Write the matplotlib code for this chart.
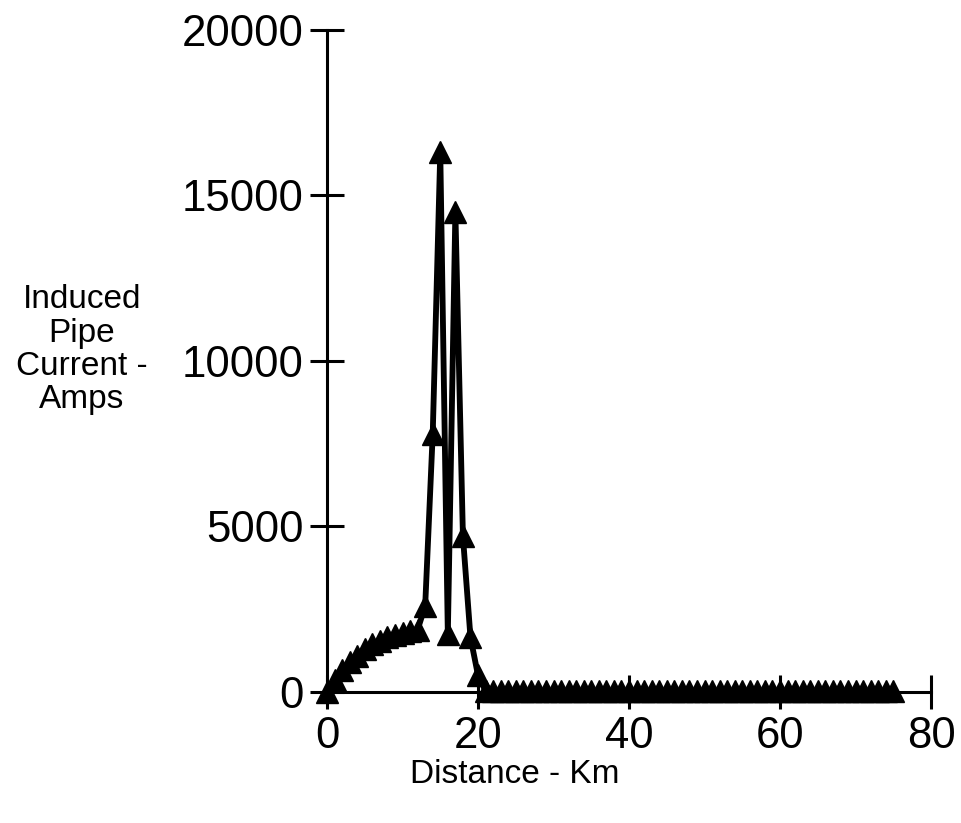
import matplotlib.pyplot as plt
import numpy as np

plt.rcParams['font.family'] = ['Liberation Sans', 'DejaVu Sans']

# distance along pipe (km) and induced current (A)
dist = list(range(0, 76))
rise = [0, 350, 650, 900, 1100, 1300, 1450, 1550, 1650, 1720, 1780, 1830, 1880]
peak = [2600, 7800, 16300, 1750, 14500, 4700, 1650, 500]
tail = [30] * (len(dist) - len(rise) - len(peak))
current = rise + peak + tail

xticks = [0, 20, 40, 60, 80]
yticks = [0, 5000, 10000, 15000, 20000]

fig = plt.figure(figsize=(9.61, 8.23), dpi=100)
ax = fig.add_axes([0.3403, 0.1592, 0.6285, 0.8044])

ax.plot(dist, current, color='black', linewidth=4.2, marker='^',
        markersize=16, markeredgewidth=1, clip_on=False, zorder=3)

ax.set_xlim(0, 80)
ax.set_ylim(0, 20000)
ax.set_xticks(xticks)
ax.set_yticks(yticks)

for s in ['top', 'right']:
    ax.spines[s].set_visible(False)
for s in ['left', 'bottom']:
    ax.spines[s].set_linewidth(2.2)

ax.tick_params(direction='inout', length=24, width=2.2, labelsize=31.5, pad=5)

ax.set_xlabel('Distance - Km', fontsize=24, va='center')
ax.xaxis.set_label_coords(0.311, -0.125)
ax.set_ylabel('Induced\nPipe\nCurrent -\nAmps', fontsize=24, rotation=0,
              ha='center', va='center', linespacing=1.1)
ax.yaxis.set_label_coords(-0.4056, 0.517)

plt.savefig('out.png', dpi=100)
